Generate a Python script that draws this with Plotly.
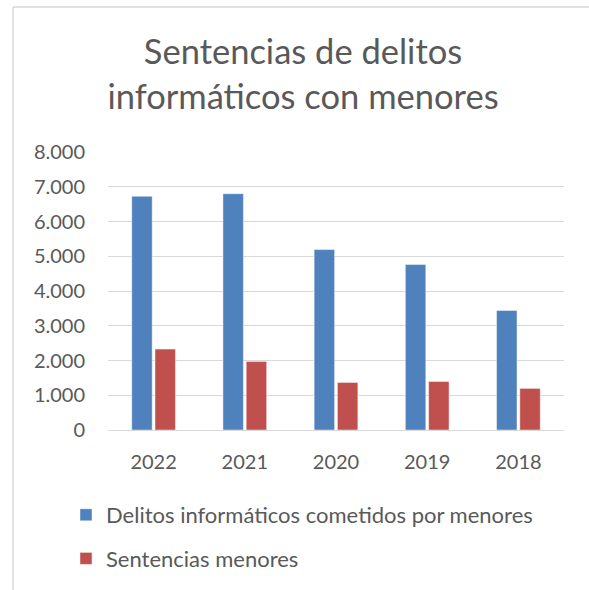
import plotly.graph_objects as go

years = ["2022", "2021", "2020", "2019", "2018"]
delitos = [6724, 6800, 5192, 4761, 3439]
sentencias = [2328, 1974, 1370, 1398, 1197]
y_ticks = [0, 1000, 2000, 3000, 4000, 5000, 6000, 7000, 8000]

W, H = 589, 590
L, R, T, B = 108, 25, 152, 160
pw, ph = W - L - R, H - T - B

def px(x):
    return (x - L) / pw

def py(y):
    return (H - B - y) / ph

FONT = "Lato"
GREY = "#595959"

fig = go.Figure()
fig.add_trace(go.Bar(x=years, y=delitos, name="Delitos informáticos cometidos por menores",
                     marker=dict(color="#4F81BD", line=dict(color="rgba(255,255,255,0.45)", width=1)),
                     legendgroup="a"))
fig.add_trace(go.Bar(x=years, y=sentencias, name="Sentencias menores",
                     marker=dict(color="#C0504D", line=dict(color="rgba(255,255,255,0.45)", width=1)),
                     legendgroup="b"))

fig.update_layout(
    width=W, height=H,
    margin=dict(l=L, r=R, t=T, b=B, autoexpand=False),
    paper_bgcolor="white", plot_bgcolor="white",
    separators=",.",
    barmode="group", bargap=0.49, bargroupgap=0.12,
    font=dict(family=FONT, color=GREY),
    title=dict(text="Sentencias de delitos<br>informáticos con menores",
               font=dict(family=FONT, size=34.5, color=GREY),
               x=px(303), xanchor="center", xref="paper",
               y=1 - 64 / H, yanchor="top", yref="container"),
    xaxis=dict(tickfont=dict(size=20, color=GREY), showgrid=False, showline=False,
               ticks="", ticklabelstandoff=18, automargin=False),
    yaxis=dict(range=[0, 8000], tickvals=y_ticks, tickformat=",d",
               tickfont=dict(size=20, color=GREY), gridcolor="#D9D9D9", gridwidth=1.3,
               zeroline=True, zerolinecolor="#D9D9D9", zerolinewidth=1.3,
               showline=False, ticks="", ticklabelstandoff=22, automargin=False),
    showlegend=True,
    legend=dict(orientation="v", x=px(66), xanchor="left", y=py(494), yanchor="top",
                font=dict(size=22, color=GREY), traceorder="grouped", tracegroupgap=12,
                bgcolor="rgba(0,0,0,0)"),
    shapes=[
        dict(type="line", xref="paper", yref="paper", x0=px(13), x1=px(13), y0=py(7), y1=py(620),
             line=dict(color="#D9D9D9", width=1.5)),
        dict(type="line", xref="paper", yref="paper", x0=px(13), x1=px(620), y0=py(7), y1=py(7),
             line=dict(color="#D9D9D9", width=1.5)),
    ],
)

fig.write_html("out.html")
